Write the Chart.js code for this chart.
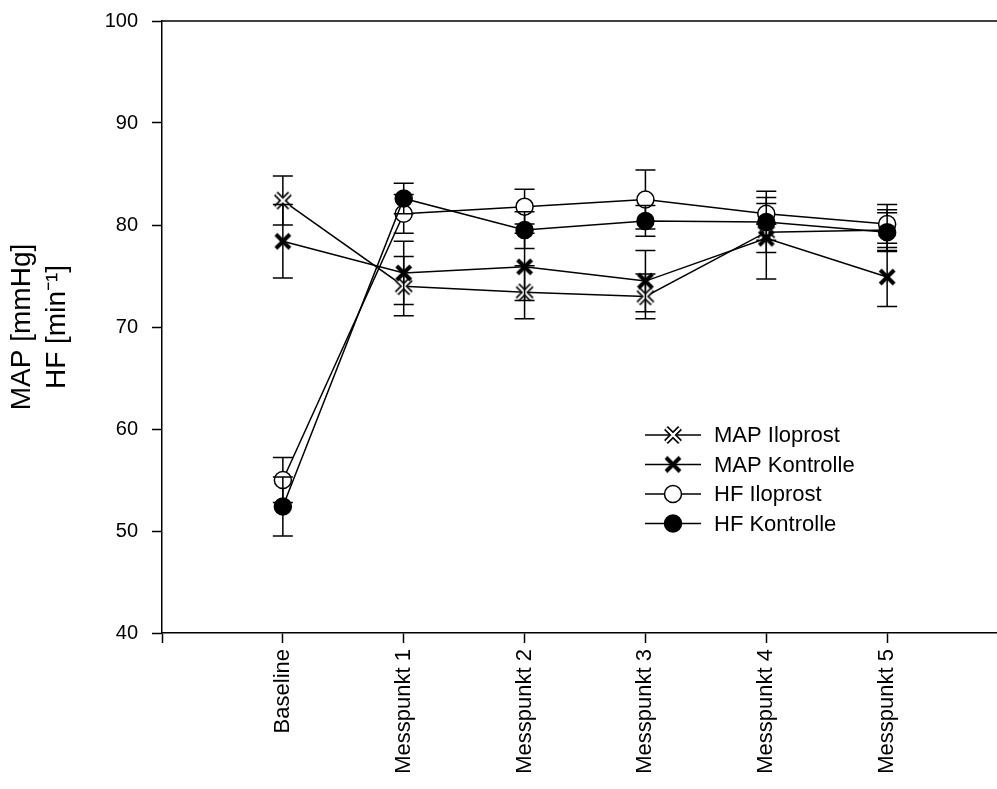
<!DOCTYPE html>
<html>
<head>
<meta charset="utf-8">
<script src="https://cdn.jsdelivr.net/npm/chart.js@4.4.1/dist/chart.umd.min.js"></script>
<style>
    html, body { margin: 0; padding: 0; background: #fff; overflow: hidden; }
    #chart { display: block; }
</style>
</head>
<body>
<canvas id="chart" width="1018" height="789"></canvas>
<script>
// values (mean and error bar half-length)
var categories = ['Baseline', 'Messpunkt 1', 'Messpunkt 2', 'Messpunkt 3', 'Messpunkt 4', 'Messpunkt 5'];
var yTicks = [40, 50, 60, 70, 80, 90, 100];

var mapIloprost = [82.4, 74.0, 73.4, 73.0, 79.3, 79.5];
var mapIloprostErr = [2.4, 2.9, 2.6, 2.2, 0.8, 2.0];
var mapKontrolle = [78.4, 75.3, 75.9, 74.5, 78.7, 74.9];
var mapKontrolleErr = [3.6, 3.1, 3.3, 3.0, 4.0, 2.9];
var hfIloprost = [55.0, 81.1, 81.8, 82.5, 81.1, 80.1];
var hfIloprostErr = [2.2, 1.9, 1.7, 2.9, 1.0, 1.9];
var hfKontrolle = [52.4, 82.6, 79.5, 80.4, 80.3, 79.3];
var hfKontrolleErr = [2.9, 1.5, 1.8, 1.5, 3.0, 1.9];

var fontFamily = '"Liberation Sans", Arial, Helvetica, sans-serif';

// empty slot at both ends of the category axis, like the original frame
function pad(arr) {
    return [null].concat(arr, [null]);
}

function makeCross(outlined) {
    var c = document.createElement('canvas');
    c.width = 20;
    c.height = 20;
    var g = c.getContext('2d');
    var a = 3, b = 17;
    function x(width, color) {
        g.strokeStyle = color;
        g.lineWidth = width;
        g.beginPath();
        g.moveTo(a, a); g.lineTo(b, b);
        g.moveTo(b, a); g.lineTo(a, b);
        g.stroke();
    }
    if (outlined) {
        x(5.5, '#000');
        x(2.4, '#fff');
    } else {
        x(4, '#000');
    }
    return c;
}

var crossOpen = makeCross(true);
var crossFilled = makeCross(false);

var errorBars = {
    id: 'errorBars',
    beforeDatasetDraw: function (chart, args) {
        var ds = chart.data.datasets[args.index];
        if (!ds.errors) return;
        var yScale = chart.scales.y;
        var ctx = chart.ctx;
        ctx.save();
        ctx.strokeStyle = '#000';
        ctx.lineWidth = 1.5;
        args.meta.data.forEach(function (pt, i) {
            var v = ds.data[i], e = ds.errors[i];
            if (v === null || e === null) return;
            var top = yScale.getPixelForValue(v + e);
            var bot = yScale.getPixelForValue(v - e);
            ctx.beginPath();
            ctx.moveTo(pt.x, top); ctx.lineTo(pt.x, bot);
            ctx.moveTo(pt.x - 10, top); ctx.lineTo(pt.x + 10, top);
            ctx.moveTo(pt.x - 10, bot); ctx.lineTo(pt.x + 10, bot);
            ctx.stroke();
        });
        ctx.restore();
    }
};

var frameTop = {
    id: 'frameTop',
    afterDraw: function (chart) {
        var a = chart.chartArea, ctx = chart.ctx;
        ctx.save();
        ctx.strokeStyle = '#000';
        ctx.lineWidth = 1.5;
        ctx.beginPath();
        ctx.moveTo(a.left, a.top);
        ctx.lineTo(a.right, a.top);
        ctx.stroke();
        ctx.restore();
    }
};

var insideLegend = {
    id: 'insideLegend',
    afterDraw: function (chart) {
        var ctx = chart.ctx;
        ctx.save();
        ctx.font = '22px ' + fontFamily;
        ctx.textBaseline = 'middle';
        chart.data.datasets.forEach(function (ds, i) {
            var y = 435 + i * 29.5;
            ctx.strokeStyle = '#000';
            ctx.lineWidth = 1.5;
            ctx.beginPath();
            ctx.moveTo(645, y); ctx.lineTo(701, y);
            ctx.stroke();
            if (typeof ds.pointStyle === 'string') {
                ctx.beginPath();
                ctx.arc(673, y, ds.pointRadius, 0, Math.PI * 2);
                ctx.fillStyle = ds.pointBackgroundColor;
                ctx.fill();
                ctx.lineWidth = ds.pointBorderWidth;
                ctx.stroke();
            } else {
                ctx.drawImage(ds.pointStyle, 673 - ds.pointStyle.width / 2, y - ds.pointStyle.height / 2);
            }
            ctx.fillStyle = '#000';
            ctx.fillText(ds.label, 714, y + 1);
        });
        ctx.restore();
    }
};

function series(label, values, errors, style, fillColor, order) {
    return {
        label: label,
        data: pad(values),
        errors: pad(errors),
        order: order,
        borderColor: '#000',
        borderWidth: 1.5,
        tension: 0,
        fill: false,
        pointStyle: style,
        pointRadius: 8.5,
        pointBorderWidth: 1.5,
        pointBorderColor: '#000',
        pointBackgroundColor: fillColor
    };
}

new Chart('chart', {
    type: 'line',
    data: {
        labels: pad(categories).map(function (c) { return c === null ? '' : c; }),
        datasets: [
            series('MAP Iloprost', mapIloprost, mapIloprostErr, crossOpen, '#fff', 3),
            series('MAP Kontrolle', mapKontrolle, mapKontrolleErr, crossFilled, '#000', 2),
            series('HF Iloprost', hfIloprost, hfIloprostErr, 'circle', '#fff', 1),
            series('HF Kontrolle', hfKontrolle, hfKontrolleErr, 'circle', '#000', 0)
        ]
    },
    options: {
        responsive: false,
        animation: false,
        devicePixelRatio: 1,
        layout: { padding: { top: 21, right: 3, bottom: 0, left: 0 } },
        plugins: {
            legend: { display: false },
            tooltip: { enabled: false }
        },
        scales: {
            x: {
                type: 'category',
                offset: false,
                border: { display: true, color: '#000', width: 1.5 },
                grid: { drawOnChartArea: false, drawTicks: true, tickLength: 10, tickColor: '#000', tickWidth: 1.5 },
                ticks: {
                    autoSkip: false,
                    minRotation: 90,
                    maxRotation: 90,
                    padding: 6,
                    color: '#000',
                    font: { family: fontFamily, size: 22 }
                },
                afterFit: function (axis) {
                    axis.height = 156;
                    axis.paddingLeft = 0;
                    axis.paddingRight = 0;
                }
            },
            y: {
                min: 40,
                max: 100,
                border: { display: true, color: '#000', width: 1.5 },
                grid: { drawOnChartArea: false, drawTicks: true, tickLength: 10, tickColor: '#000', tickWidth: 1.5 },
                afterBuildTicks: function (axis) {
                    axis.ticks = yTicks.map(function (v) { return { value: v }; });
                },
                ticks: {
                    padding: 14,
                    color: '#000',
                    font: { family: fontFamily, size: 20 }
                },
                title: {
                    display: true,
                    text: ['MAP [mmHg]', 'HF [min\u207B\u00B9]'],
                    color: '#000',
                    font: { family: fontFamily, size: 28, lineHeight: 1.25 },
                    padding: { top: 5, bottom: 0 }
                },
                afterFit: function (axis) {
                    axis.width = 162;
                    axis.paddingTop = 0;
                    axis.paddingBottom = 0;
                }
            }
        }
    },
    plugins: [errorBars, frameTop, insideLegend]
});
</script>
</body>
</html>
